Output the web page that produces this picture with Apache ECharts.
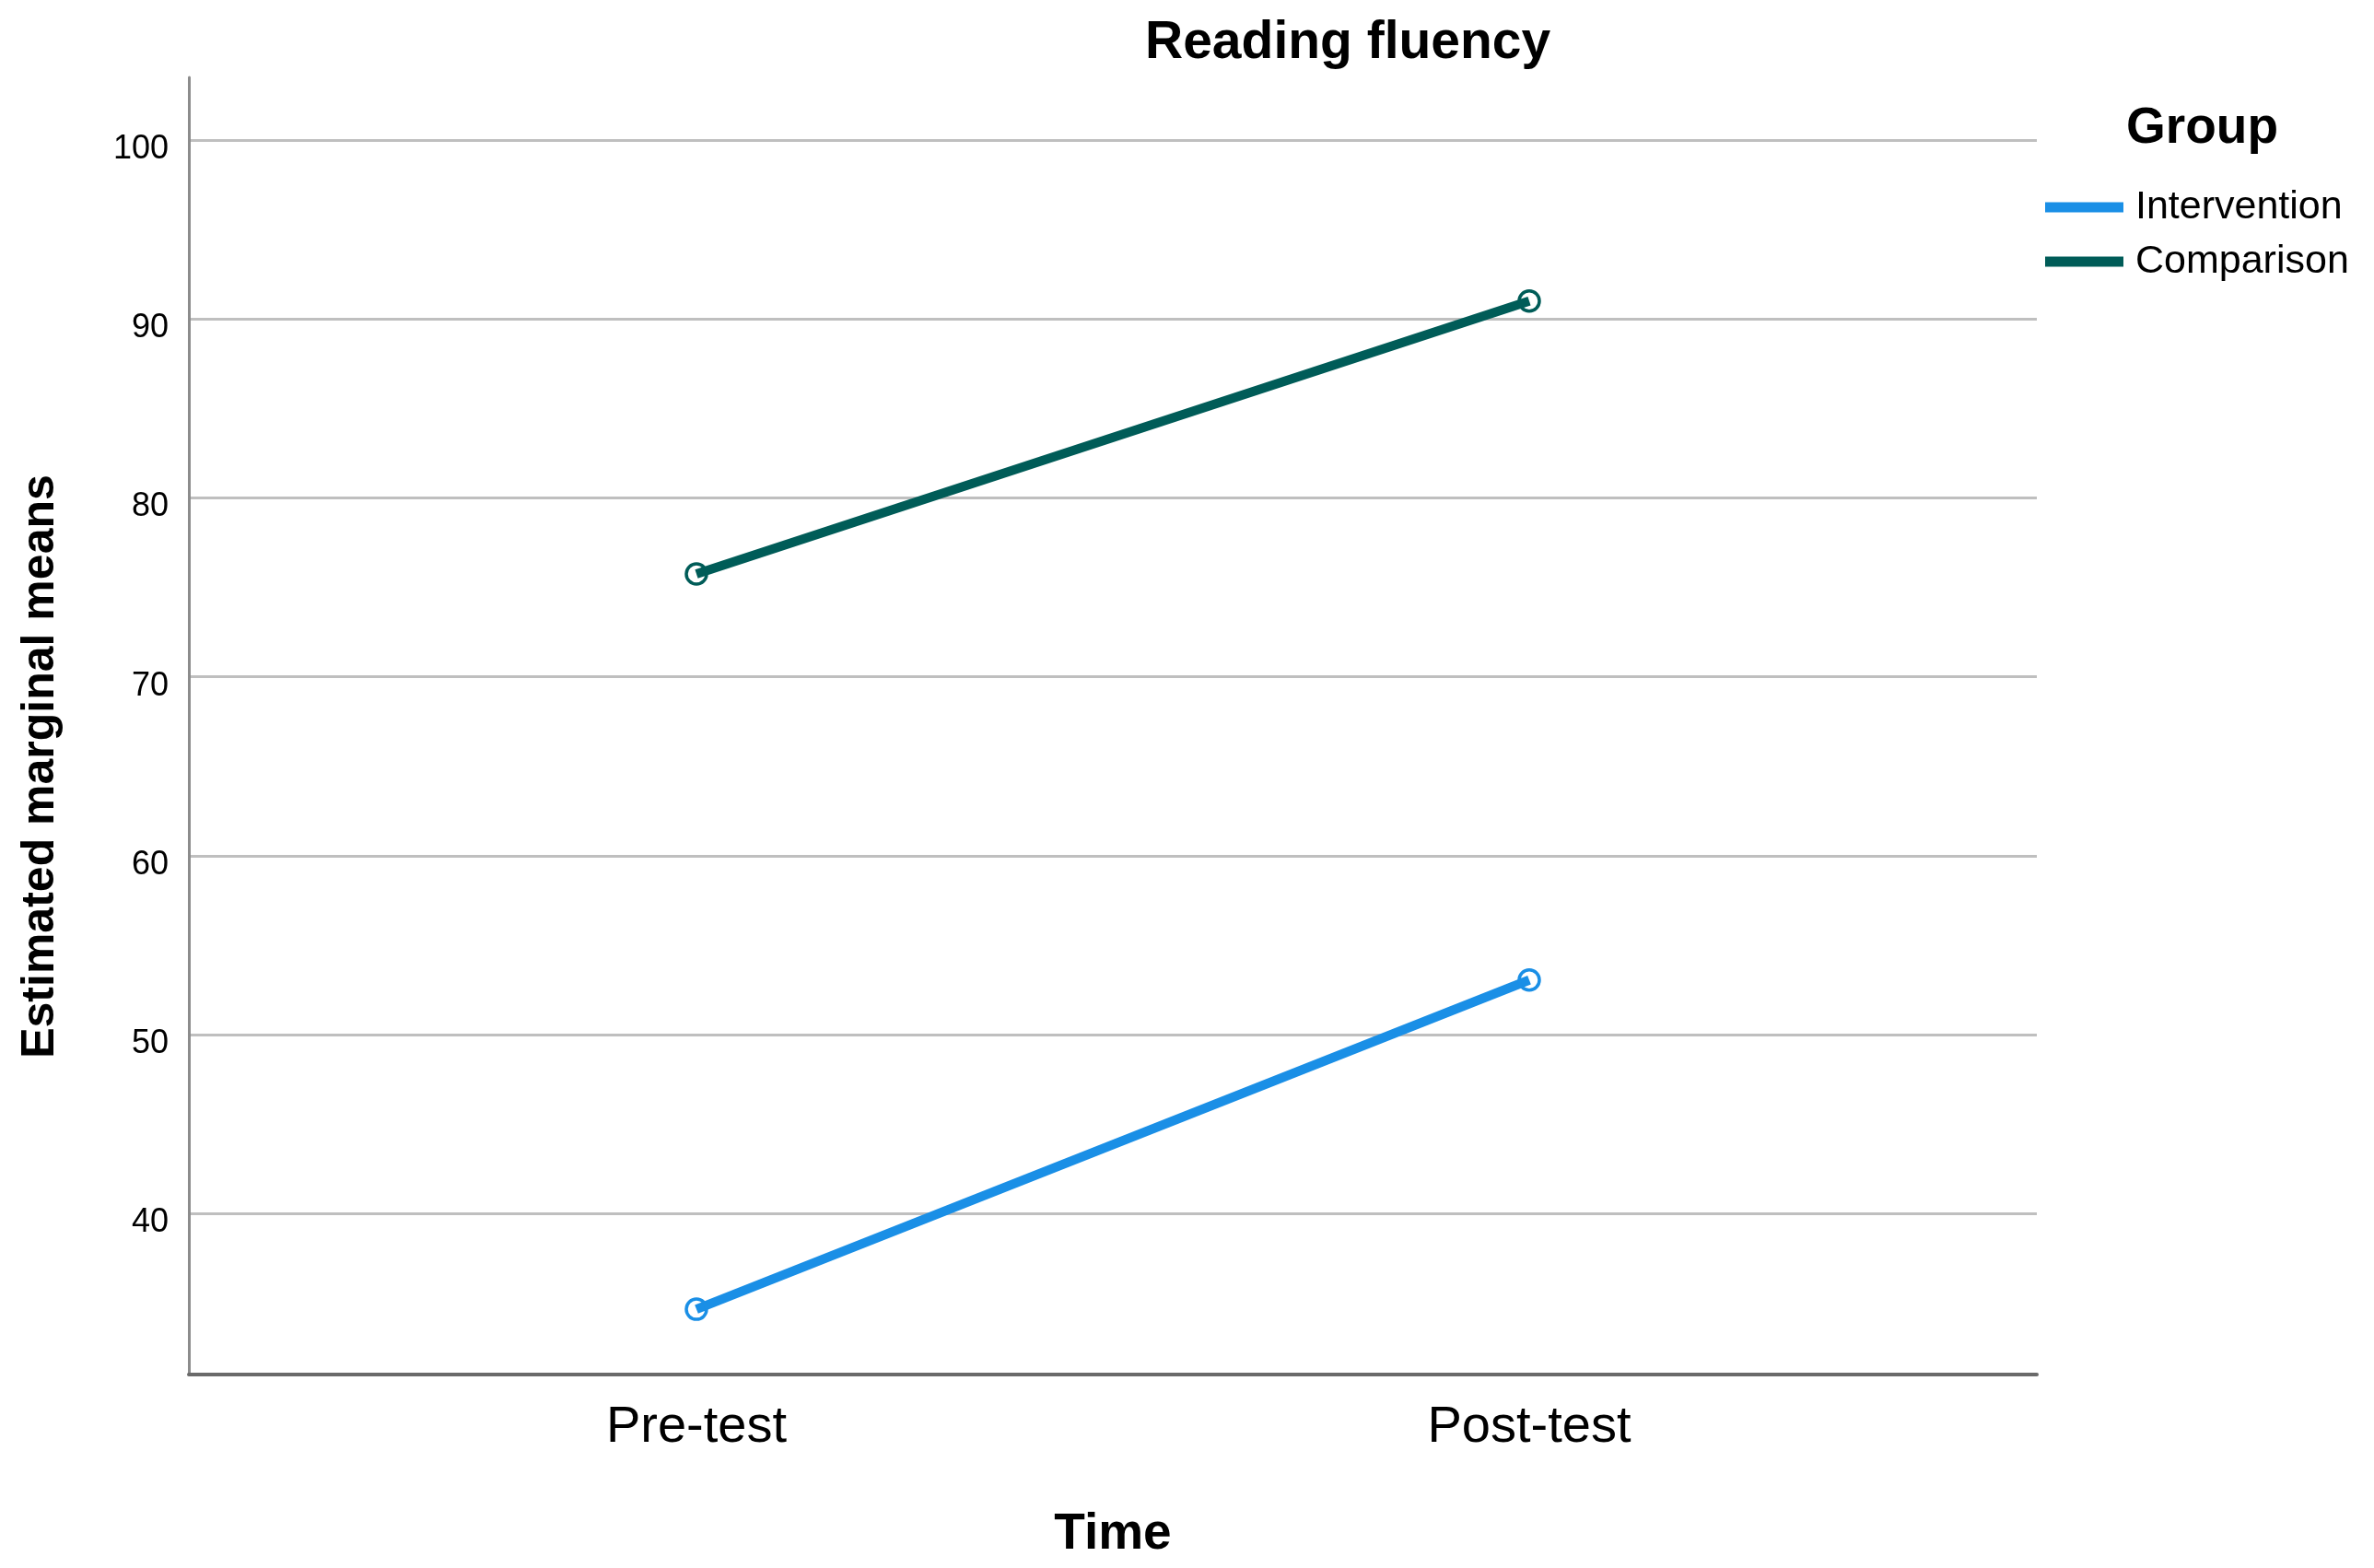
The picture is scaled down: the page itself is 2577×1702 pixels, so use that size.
<!DOCTYPE html>
<html>
<head>
<meta charset="utf-8">
<title>Reading fluency</title>
<script src="https://cdn.jsdelivr.net/npm/echarts@6/dist/echarts.min.js"></script>
<style>
  html, body { margin: 0; padding: 0; background: #fff; }
  #chart { width: 2577px; height: 1702px; }
</style>
</head>
<body>
<div id="chart"></div>
<script>
// data
var timePoints = ['Pre-test', 'Post-test'];
var groupNames = ['Intervention', 'Comparison'];
var interventionMeans = [34.65, 53.05];
var comparisonMeans = [75.75, 91.0];
var groupColors = ['#1a8fe6', '#005c58'];

var font = 'Liberation Sans, Arial, sans-serif';

function toPairs(values) {
  return values.map(function (v, i) { return [i, v]; });
}

var chart = echarts.init(document.getElementById('chart'));

var option = {
  backgroundColor: '#fff',
  animation: false,
  title: [{
    text: 'Reading fluency',
    left: 1243,
    top: 19,
    padding: 0,
    textStyle: { fontFamily: font, fontSize: 57, fontWeight: 'bold', color: '#000' }
  }, {
    text: 'Group',
    left: 2308,
    top: 112,
    padding: 0,
    textStyle: { fontFamily: font, fontSize: 55, fontWeight: 'bold', color: '#000' }
  }],
  legend: {
    orient: 'vertical',
    left: 2220,
    top: 203,
    padding: 0,
    itemWidth: 85,
    itemHeight: 11,
    itemGap: 15,
    icon: 'rect',
    data: groupNames.map(function (n, i) {
      return { name: n, itemStyle: { color: groupColors[i], borderWidth: 0 } };
    }),
    textStyle: {
      fontFamily: font, fontSize: 43, color: '#000',
      lineHeight: 44, padding: [0, 0, 0, 8]
    }
  },
  grid: {
    left: 205,
    right: 366,
    top: 84,
    bottom: 210
  },
  xAxis: {
    type: 'value',
    min: -0.6095,
    max: 1.6095,
    name: 'Time',
    nameLocation: 'middle',
    nameGap: 146,
    nameTextStyle: { fontFamily: font, fontSize: 55, fontWeight: 'bold', color: '#000' },
    axisLine: { show: true, onZero: false, lineStyle: { color: '#6a6a6a', width: 4 } },
    axisTick: { show: false },
    splitLine: { show: false },
    axisLabel: {
      margin: 30,
      fontFamily: font,
      fontSize: 56,
      color: '#000',
      showMinLabel: false,
      showMaxLabel: false,
      formatter: function (v) {
        return Number.isInteger(v) && timePoints[v] !== undefined ? timePoints[v] : '';
      }
    }
  },
  yAxis: {
    type: 'value',
    min: 31,
    max: 103.5,
    splitNumber: 7,
    name: 'Estimated marginal means',
    nameLocation: 'middle',
    nameGap: 136,
    nameTextStyle: {
      fontFamily: font, fontSize: 50, fontWeight: 'bold', color: '#000',
      padding: [0, 88, 0, 0]
    },
    axisLine: { show: true, onZero: false, lineStyle: { color: '#8c8c8c', width: 3 } },
    axisTick: { show: false },
    axisLabel: {
      margin: 22,
      fontFamily: font,
      fontSize: 36,
      color: '#000',
      verticalAlign: 'top',
      lineHeight: 20,
      showMinLabel: false,
      showMaxLabel: false
    },
    splitLine: {
      show: true,
      showMinLine: false,
      showMaxLine: false,
      lineStyle: { color: '#bfbfbf', width: 3 }
    }
  },
  series: [{
    name: groupNames[0],
    type: 'line',
    data: toPairs(interventionMeans),
    symbol: 'circle',
    symbolSize: 22,
    lineStyle: { color: groupColors[0], width: 10 },
    itemStyle: { color: 'rgba(255,255,255,0)', borderColor: groupColors[0], borderWidth: 3.5 }
  }, {
    name: groupNames[1],
    type: 'line',
    data: toPairs(comparisonMeans),
    symbol: 'circle',
    symbolSize: 22,
    lineStyle: { color: groupColors[1], width: 10 },
    itemStyle: { color: 'rgba(255,255,255,0)', borderColor: groupColors[1], borderWidth: 3.5 }
  }]
};

chart.setOption(option);
</script>
</body>
</html>
